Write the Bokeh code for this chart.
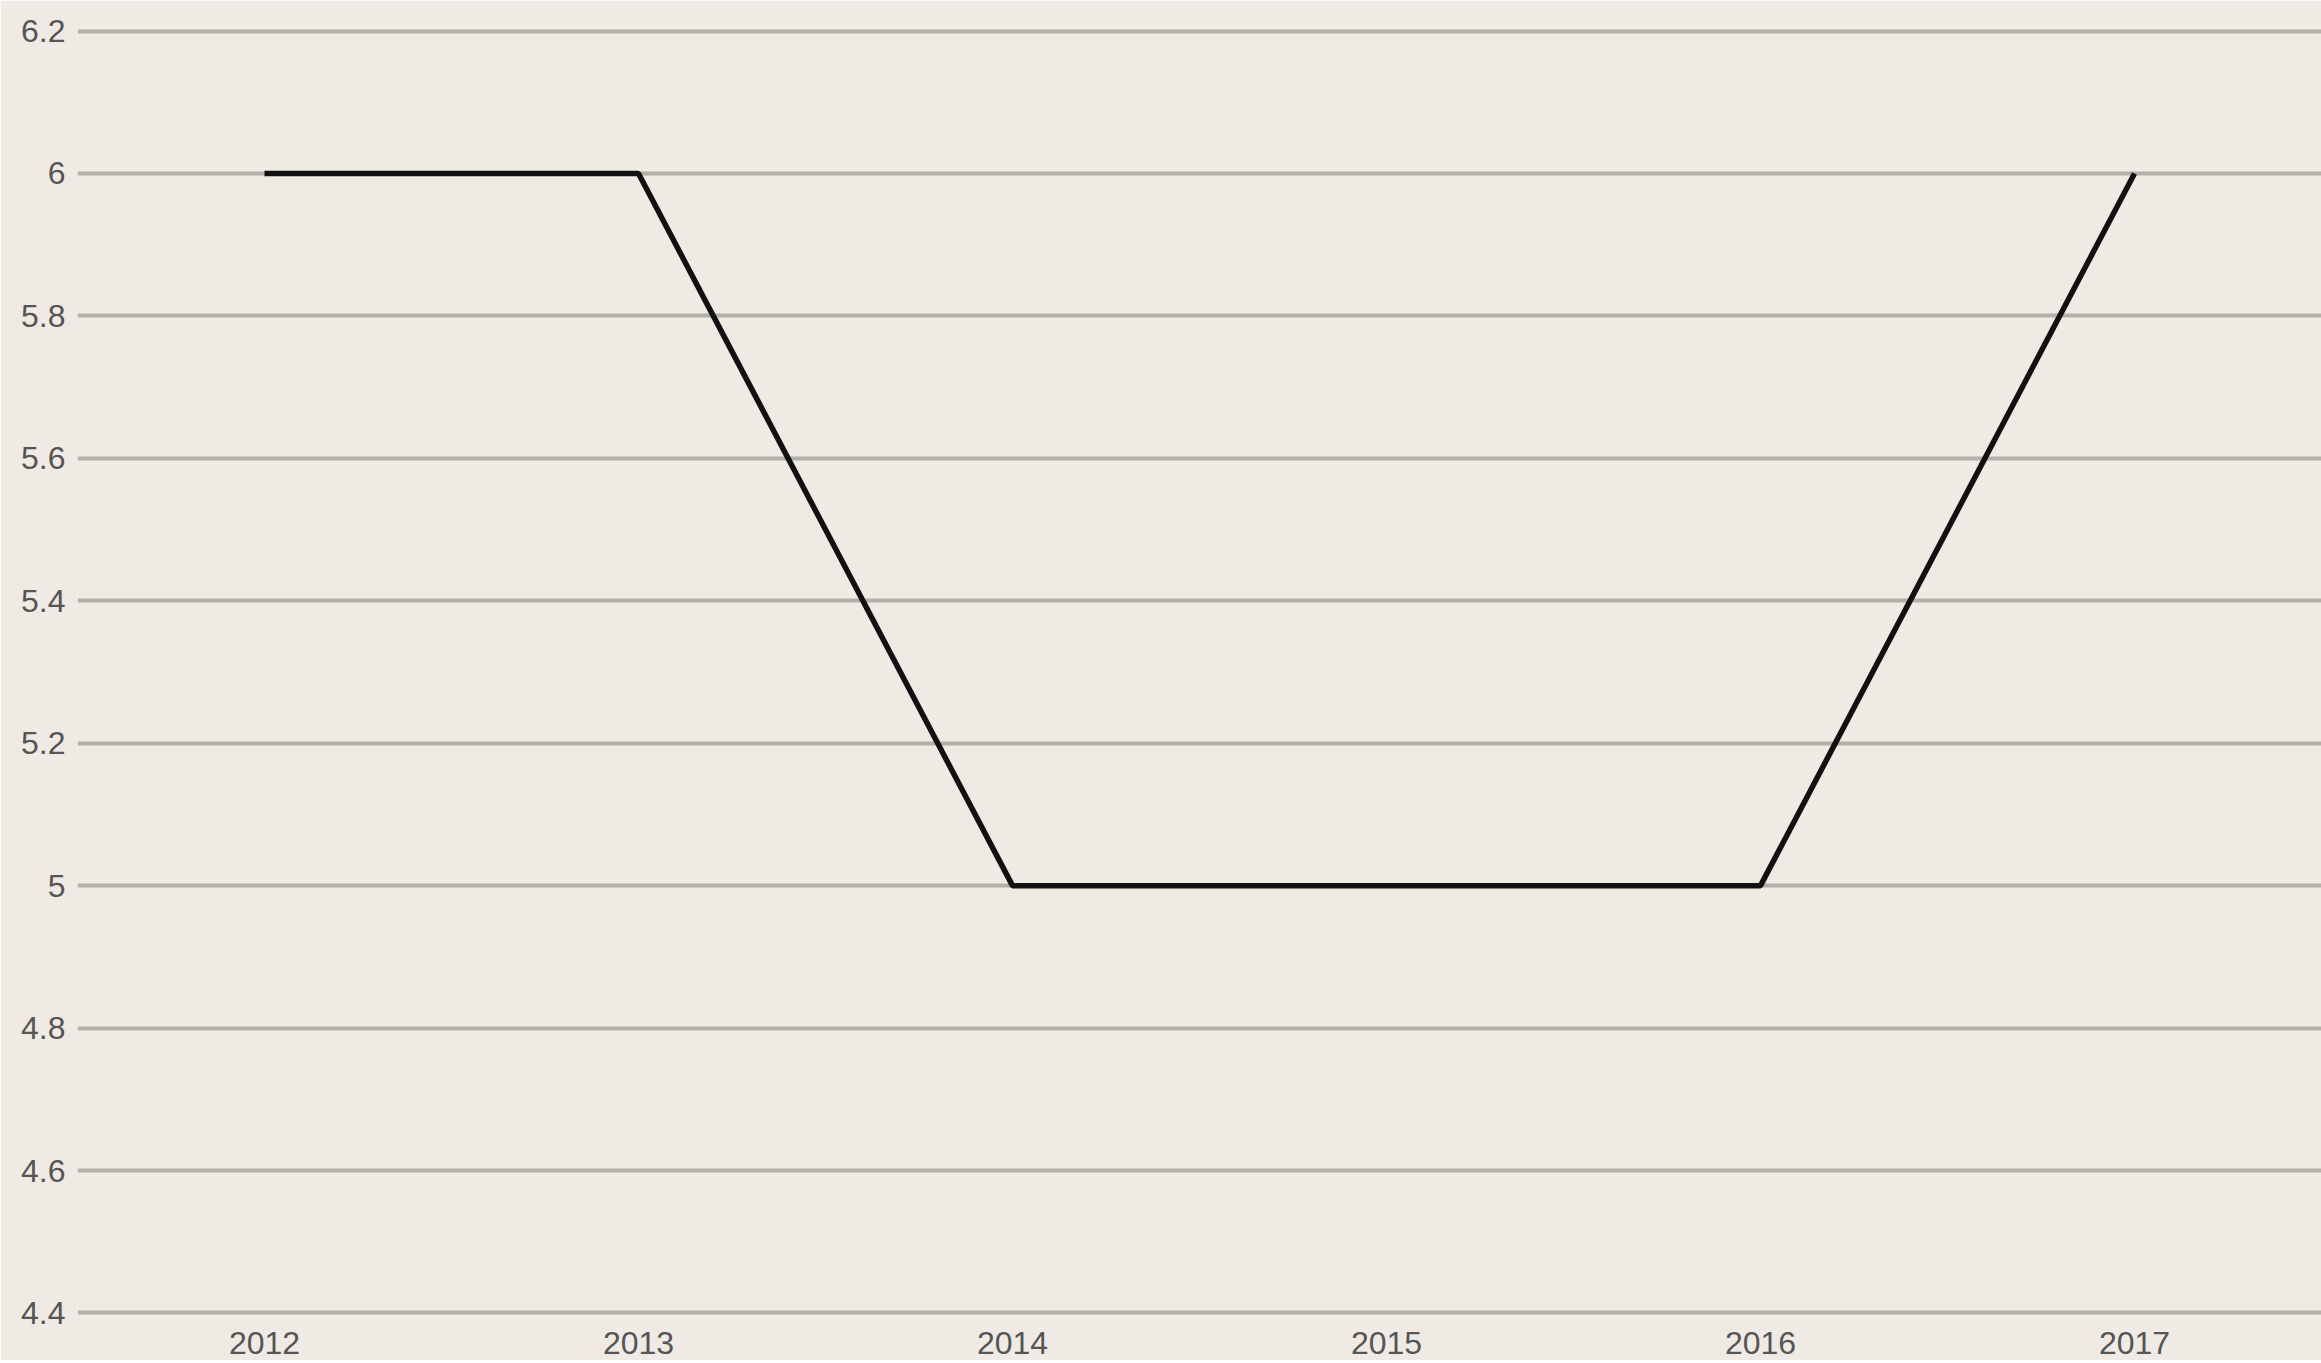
from bokeh.plotting import figure
from bokeh.models import FixedTicker, Range1d
from bokeh.embed import file_html
from bokeh.resources import INLINE

years = [2012, 2013, 2014, 2015, 2016, 2017]
values = [6, 6, 5, 5, 5, 6]
yticks = [4.4, 4.6, 4.8, 5.0, 5.2, 5.4, 5.6, 5.8, 6.0, 6.2]
ytick_labels = ["4.4", "4.6", "4.8", "5", "5.2", "5.4", "5.6", "5.8", "6", "6.2"]

BG = "#efebe4"

p = figure(width=2321, height=1360, output_backend="svg", toolbar_location=None,
           x_range=Range1d(2011.5, 2017.5), y_range=Range1d(4.395, 6.205),
           min_border_left=77, min_border_right=0, min_border_top=27, min_border_bottom=44)
p.background_fill_color = BG
p.border_fill_color = BG
p.outline_line_color = None

p.line(years, values, line_color="#111111", line_width=5.5)

p.xgrid.grid_line_color = None
p.ygrid.grid_line_color = "#b1b0a9"
p.ygrid.grid_line_width = 4

p.xaxis.ticker = FixedTicker(ticks=years)
p.yaxis.ticker = FixedTicker(ticks=yticks)
p.yaxis.major_label_overrides = dict(zip(yticks, ytick_labels))

for ax in (p.xaxis[0], p.yaxis[0]):
    ax.axis_line_color = None
    ax.major_tick_line_color = None
    ax.minor_tick_line_color = None
    ax.major_tick_out = 0
    ax.major_tick_in = 0
    ax.major_label_text_font = "Liberation Sans"
    ax.major_label_text_font_size = "32px"
    ax.major_label_text_color = "#555555"

p.xaxis.major_label_standoff = 15
p.yaxis.major_label_standoff = 12

open("out.html", "w").write(file_html(p, INLINE))
